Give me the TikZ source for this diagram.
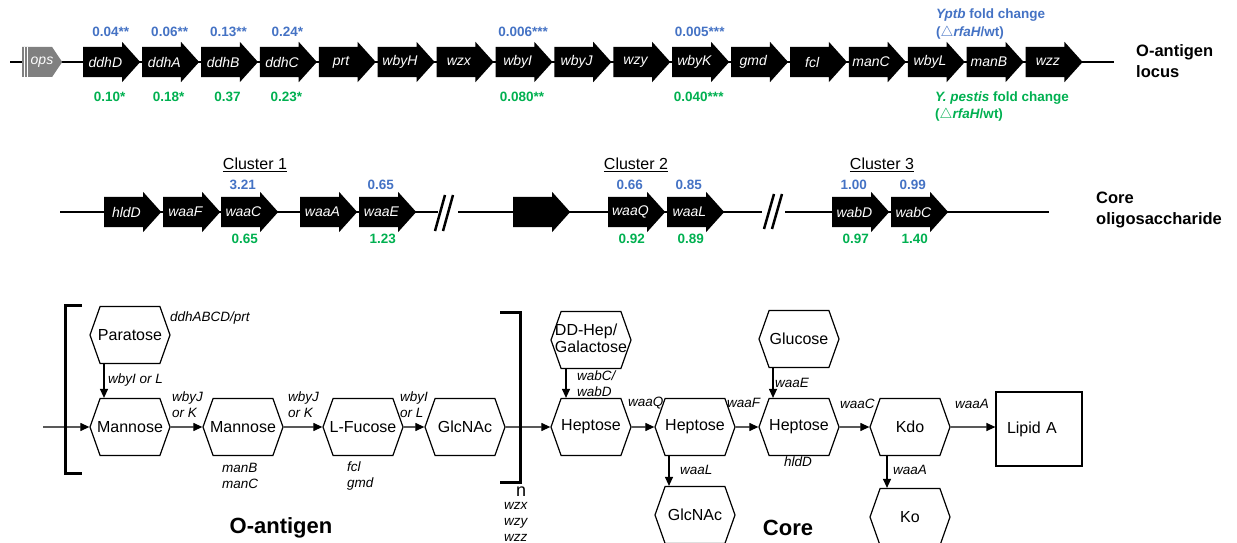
\documentclass[tikz,border=0pt]{standalone}
\usepackage{fontspec}
\setmainfont{Liberation Sans}
\usepackage{tikz}
\usetikzlibrary{calc}
\usetikzlibrary{arrows.meta}
\usetikzlibrary{shapes.arrows,shapes.symbols}
\definecolor{ytbblue}{RGB}{68,114,196}
\definecolor{ypgreen}{RGB}{0,176,80}
\definecolor{opsgray}{RGB}{128,128,128}
\newcommand{\hx}[1]{\makebox[0pt]{#1}}
\tikzstyle{every node}=[inner sep=0pt]
\tikzstyle{gene}=[single arrow, fill=black, inner xsep=0pt, inner ysep=15pt, minimum height=57pt, minimum width=40pt, single arrow head extend=5pt, single arrow tip angle=96, anchor=tail]
\tikzstyle{genename}=[text=white, font=\fontsize{14}{16}\selectfont\itshape]
\tikzstyle{ytbval}=[text=ytbblue, font=\fontsize{13.5}{16}\selectfont\bfseries]
\tikzstyle{ypval}=[text=ypgreen, font=\fontsize{13.5}{16}\selectfont\bfseries]
\tikzstyle{cluster}=[font=\fontsize{16}{19}\selectfont]
\tikzstyle{sugar}=[signal, signal to=west and east, signal pointer angle=141, draw, line width=1.2pt, minimum width=80pt, minimum height=57pt, font=\fontsize{16}{19}\selectfont]
\tikzstyle{enz}=[font=\fontsize{13.5}{16}\selectfont\itshape, align=left, anchor=west]
\tikzstyle{flow}=[line width=1.2pt, -{Triangle[length=9pt,width=8pt]}]
\tikzstyle{locus}=[font=\fontsize{16.5}{20.5}\selectfont\bfseries, align=left, anchor=west]
\tikzstyle{part}=[font=\fontsize{22}{26}\selectfont\bfseries]

\begin{document}
\begin{tikzpicture}[x=1pt,y=-1pt]
                \useasboundingbox (0,0) rectangle (1237,543);
                \clip (0,0) rectangle (1237,543);

                % O-antigen locus
                \draw [line width=2.5pt] (10,62) -- (1114,62);
                \node [signal, signal to=east, fill=opsgray, minimum width=40pt, minimum height=30pt, signal pointer angle=112, anchor=west] (ops) at (22,62) {};
                \draw [white, line width=0.8pt] (24.5,47) -- (24.5,77) (27,47) -- (27,77);
                \node [genename] (tops) at (42,62) {ops};
                \foreach \g [count=\i from 0] in {ddhD,ddhA,ddhB,ddhC,prt,wbyH,wzx,wbyI,wbyJ,wzy,wbyK,gmd,fcl,manC,wbyL,manB,wzz}{
                    \node [gene] (\g) at (83+58.9*\i,62) {};
                    \node [genename] (t\g) at ($(\g.tail)!0.39!(\g.tip)$) {\g};
                }
                \foreach \g/\u/\d in {ddhD/0.04**/0.10*, ddhA/0.06**/0.18*, ddhB/0.13**/0.37, ddhC/0.24*/0.23*, wbyI/0.006***/0.080**, wbyK/0.005***/0.040***}{
                    \path ($(\g.tail)!0.5!(\g.tip)$) ++(-1,-30) node [ytbval] (u\g) {\u};
                    \path ($(\g.tail)!0.5!(\g.tip)$) ++(-2,35) node [ypval] (d\g) {\d};
                }
                \node [ytbval, font=\fontsize{13.5}{18}\selectfont\bfseries, align=left, anchor=west] (ytbkey) at (936,24) {\textit{Yptb} fold change\\($\triangle$\textit{rfaH}/wt)};
                \node [ypval, font=\fontsize{13.5}{17}\selectfont\bfseries, align=left, anchor=west] (ypkey) at (935,106.5) {\textit{Y. pestis} fold change\\($\triangle$\textit{rfaH}/wt)};
                \node [locus] (oloc) at (1136,61) {O-antigen\\locus};

                % core clusters
                \draw [line width=2.5pt] (60,212) -- (438,212) (458,212) -- (762,212) (785,212) -- (1049,212);
                \draw [line width=2.5pt] (435,231) -- (445,195) (443,231) -- (453,195);
                \draw [line width=2.5pt] (764,229) -- (774,194) (772,229) -- (782,194);
                \foreach \g/\x in {hldD/104, waaF/163, waaC/221, waaA/300, waaE/359, waaQ/608, waaL/667, wabD/832, wabC/891}{
                    \node [gene] (\g) at (\x,212) {};
                    \node [genename] (t\g) at ($(\g.tail)!0.39!(\g.tip)$) {\g};
                }
                \node [gene] (orfX) at (513,212) {};
                \foreach \g/\u/\d in {waaC/3.21/0.65, waaE/0.65/1.23, waaQ/0.66/0.92, waaL/0.85/0.89, wabD/1.00/0.97, wabC/0.99/1.40}{
                    \path ($(\g.tail)!0.5!(\g.tip)$) ++(-7,-27) node [ytbval] (u\g) {\u};
                    \path ($(\g.tail)!0.5!(\g.tip)$) ++(-5,27) node [ypval] (d\g) {\d};
                }
                \node [cluster] (cla) at (255,165) {\underline{Cluster 1}};
                \node [cluster] (clb) at (636,165) {\underline{Cluster 2}};
                \node [cluster] (clc) at (882,165) {\underline{Cluster 3}};
                \node [locus] (coreloc) at (1096,210) {Core\\oligosaccharide};

                % O-antigen repeat
                \draw [line width=3pt] (82,305) -- (65,305) -- (65,473) -- (82,473);
                \draw [line width=3pt] (500,312) -- (520,312) -- (520,482) -- (500,482);
                \node [sugar] (para) at (130,335) {\hx{Paratose}};
                \node [sugar] (mannA) at (130,427) {\hx{Mannose}};
                \node [sugar] (mannB) at (243,427) {\hx{Mannose}};
                \node [sugar] (fuc) at (363,427) {\hx{L-Fucose}};
                \node [sugar] (glcA) at (465,427) {\hx{GlcNAc}};
                \coordinate (inflow) at (43,427);
                \draw [flow] (inflow) -- (mannA);
                \draw [flow] ([xshift=-26pt]para.south) -- ([xshift=-26pt]mannA.north);
                \draw [flow] (mannA) -- (mannB);
                \draw [flow] (mannB) -- (fuc);
                \draw [flow] (fuc) -- (glcA);
                \node [enz] (lddh) at (170,318) {ddhABCD/prt};
                \node [enz] (lpara) at (108,380) {wbyI or L};
                \node [enz] (lmana) at (172,405) {wbyJ\\or K};
                \node [enz] (lmanb) at (288,405) {wbyJ\\or K};
                \node [enz] (lfuc) at (400,405) {wbyI\\or L};
                \node [enz] (lman) at (222,476) {manB\\manC};
                \node [enz] (lfcl) at (347,476) {fcl\\gmd};
                \node [font=\fontsize{18}{20}\selectfont] (rep) at (521,492) {n};
                \node [enz, anchor=north west] (lwz) at (504,502) {wzx\\wzy\\wzz};
                \node [part] (oant) at (281,528) {O-antigen};

                % core
                \node [sugar] (ddhep) at (591,340) {\hx{\begin{tabular}{@{}l@{}}DD-Hep/\\[-2pt]Galactose\end{tabular}}};
                \node [sugar] (hepA) at (591,427) {\hx{Heptose}};
                \node [sugar] (hepB) at (695,427) {\hx{Heptose}};
                \node [sugar] (hepC) at (799,427) {\hx{Heptose}};
                \node [sugar] (gluc) at (799,339) {\hx{Glucose}};
                \node [sugar] (kdo) at (910,427) {\hx{Kdo}};
                \node [sugar] (glcB) at (695,515) {\hx{GlcNAc}};
                \node [sugar] (ko) at (910,517) {\hx{Ko}};
                \node [draw, line width=1.2pt, minimum width=86pt, minimum height=74pt, text width=64pt, align=left, font=\fontsize{16}{19}\selectfont] (lipA) at (1039,429) {Lipid A};
                \draw [flow] (glcA) -- (hepA);
                \draw [flow] ([xshift=-25pt]ddhep.south) -- ([xshift=-25pt]hepA.north);
                \draw [flow] (hepA) -- (hepB);
                \draw [flow] (hepB) -- (hepC);
                \draw [flow] ([xshift=-26pt]gluc.south) -- ([xshift=-26pt]hepC.north);
                \draw [flow] (hepC) -- (kdo);
                \draw [flow] (kdo) -- (kdo -| lipA.west);
                \draw [flow] ([xshift=-26pt]hepB.south) -- ([xshift=-26pt]glcB.north);
                \draw [flow] ([xshift=-23pt]kdo.south) -- ([xshift=-23pt]ko.north);
                \node [enz] (lwab) at (577,384) {wabC/\\wabD};
                \node [enz] (lwaaQ) at (628,403) {waaQ};
                \node [enz] (lwaaF) at (727,403) {waaF};
                \node [enz] (lwaaE) at (775,383) {waaE};
                \node [enz] (lwaaC) at (840,404) {waaC};
                \node [enz] (lwaaAa) at (955,404) {waaA};
                \node [enz, anchor=center] (lhld) at (798,462) {hldD};
                \node [enz] (lwaaL) at (680,470) {waaL};
                \node [enz] (lwaaAb) at (893,470) {waaA};
                \node [part] (core) at (788,528) {Core};
            \end{tikzpicture}
\end{document}
